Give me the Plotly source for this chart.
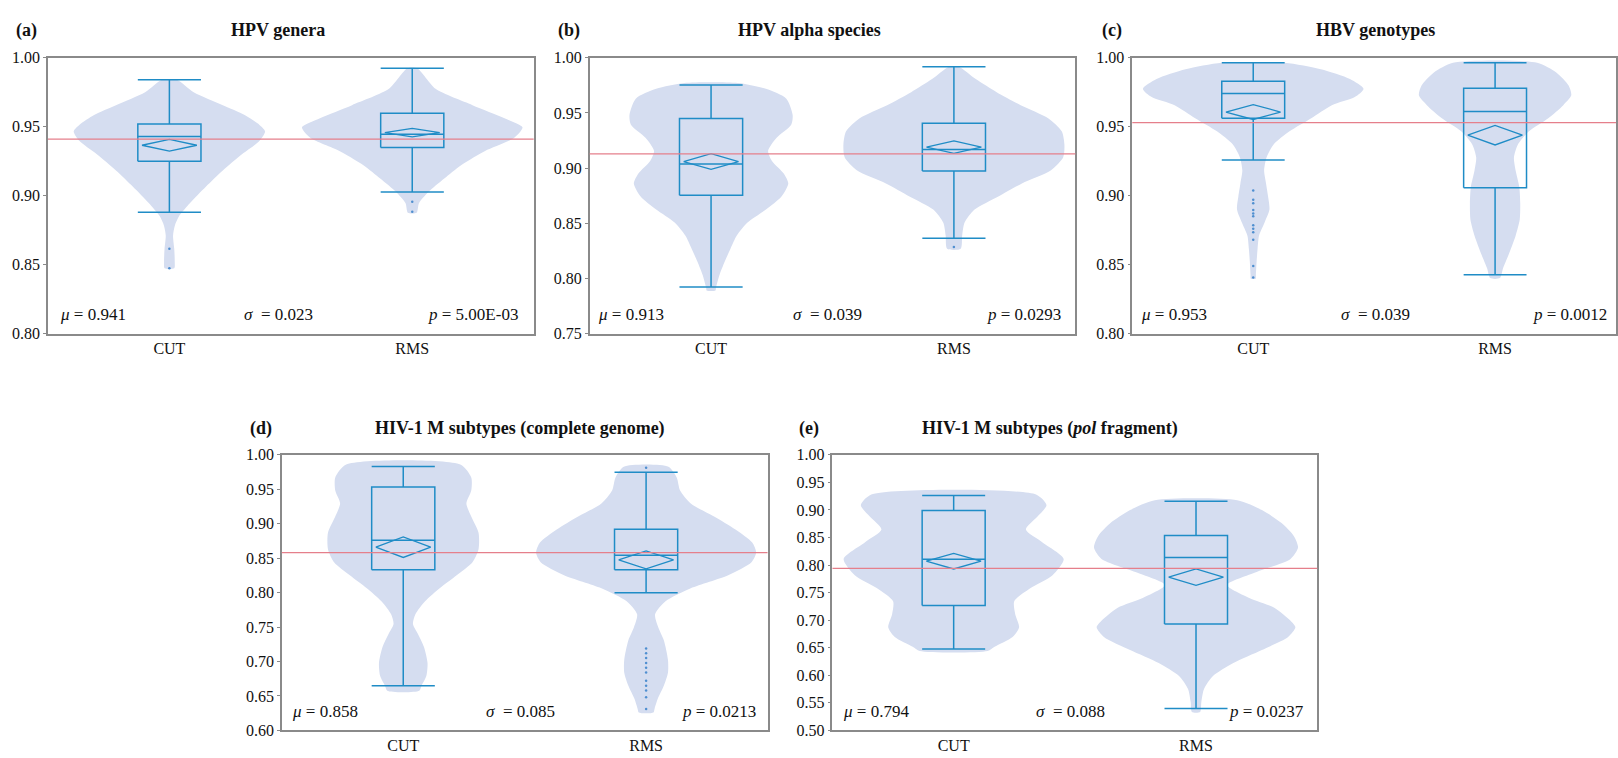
import plotly.graph_objects as go

FONT = "Liberation Serif"
W, H = 1618, 758

categories = ["CUT", "RMS"]
panel_labels = ["(a)", "(b)", "(c)", "(d)", "(e)"]
panel_titles = ["HPV genera", "HPV alpha species", "HBV genotypes",
                "HIV-1 M subtypes (complete genome)",
                "HIV-1 M subtypes (<i>pol</i> fragment)"]
y_ranges = [(0.80, 1.00), (0.75, 1.00), (0.80, 1.00), (0.60, 1.00), (0.50, 1.00)]
mu_values = [0.941, 0.913, 0.953, 0.858, 0.794]
sigma_values = [0.023, 0.039, 0.039, 0.085, 0.088]
p_texts = ["5.00E-03", "0.0293", "0.0012", "0.0213", "0.0237"]

# box statistics per panel: [CUT, RMS]
q1 = [[0.925, 0.935], [0.8754, 0.8973], [0.9562, 0.9058], [0.8333, 0.8333], [0.7267, 0.693]]
median = [[0.943, 0.9446], [0.9038, 0.9169], [0.9742, 0.961], [0.8758, 0.8541], [0.8105, 0.8135]]
q3 = [[0.952, 0.9598], [0.945, 0.9408], [0.983, 0.978], [0.9532, 0.8919], [0.899, 0.8536]]
lower = [[0.888, 0.9027], [0.7923, 0.8364], [0.9259, 0.8426], [0.6647, 0.7998], [0.6476, 0.5396]]
upper = [[0.9841, 0.9924], [0.9754, 0.992], [0.9964, 0.9964], [0.983, 0.9745], [0.9262, 0.9156]]
mean = [[0.9366, 0.9458], [0.906, 0.919], [0.9607, 0.9439], [0.8659, 0.8475], [0.807, 0.778]]
ci_half = [[0.0043, 0.0031], [0.0071, 0.0057], [0.0054, 0.0071], [0.0149, 0.013], [0.0142, 0.0148]]

# outlier points per panel: [CUT, RMS]
outliers = [
    [[0.8615, 0.8473], [0.8956, 0.8883]],
    [[], [0.8284]],
    [[0.9037, 0.897, 0.8945, 0.8897, 0.887, 0.885, 0.8785, 0.876, 0.8735, 0.868, 0.849, 0.8407], []],
    [[], [0.981, 0.719, 0.712, 0.705, 0.698, 0.691, 0.684, 0.672, 0.665, 0.658, 0.648, 0.631]],
    [[], []],
]

# violin density profiles: y levels and half-widths (category units)
violin_y = [
    [[0.9841, 0.9751, 0.9657, 0.9586, 0.9515, 0.9467, 0.9396, 0.9302, 0.9183, 0.9065, 0.8947, 0.8852, 0.8781, 0.8710, 0.8615, 0.8521, 0.8473],
     [0.9924, 0.9775, 0.9657, 0.9562, 0.9496, 0.9420, 0.9325, 0.9231, 0.9136, 0.9041, 0.8947, 0.8876]],
    [[0.9772, 0.9719, 0.963, 0.9482, 0.9393, 0.9275, 0.9157, 0.9068, 0.895, 0.8861, 0.8743, 0.8624, 0.8506, 0.8388, 0.8269, 0.8151, 0.8033, 0.7914, 0.789],
     [0.992, 0.9808, 0.9689, 0.9571, 0.9453, 0.9334, 0.9216, 0.9098, 0.898, 0.8861, 0.8743, 0.8624, 0.8506, 0.8388, 0.8269]],
    [[0.9964, 0.9917, 0.9846, 0.9775, 0.9716, 0.9657, 0.9562, 0.9467, 0.9373, 0.9278, 0.9183, 0.9089, 0.8994, 0.8899, 0.8805, 0.8710, 0.8615, 0.8521, 0.8426, 0.8398],
     [0.9964, 0.9893, 0.9799, 0.9728, 0.9657, 0.9562, 0.9467, 0.9373, 0.9278, 0.9183, 0.9065, 0.8947, 0.8828, 0.8710, 0.8568, 0.8473, 0.8402]],
    [[0.9858, 0.9669, 0.948, 0.9292, 0.9103, 0.8867, 0.863, 0.8442, 0.8253, 0.8064, 0.7875, 0.7686, 0.7544, 0.7403, 0.7214, 0.6978, 0.6789, 0.6647, 0.6576],
     [0.9825, 0.9669, 0.948, 0.9292, 0.9103, 0.8914, 0.8725, 0.8583, 0.8442, 0.8253, 0.8064, 0.7875, 0.7686, 0.7497, 0.7308, 0.7025, 0.6836, 0.6647, 0.6458, 0.6316, 0.626]],
    [[0.928, 0.9085, 0.8878, 0.8642, 0.8406, 0.8111, 0.7816, 0.758, 0.7344, 0.7107, 0.6871, 0.6694, 0.6517, 0.644],
     [0.9174, 0.8996, 0.876, 0.8524, 0.8318, 0.8111, 0.7875, 0.7639, 0.7403, 0.7226, 0.6989, 0.6871, 0.6694, 0.6458, 0.6222, 0.5986, 0.575, 0.5514, 0.5336]],
]
violin_w = [
    [[0.03, 0.10, 0.22, 0.31, 0.37, 0.394, 0.37, 0.30, 0.22, 0.15, 0.085, 0.04, 0.022, 0.015, 0.02, 0.022, 0.02],
     [0.02, 0.096, 0.248, 0.38, 0.454, 0.42, 0.30, 0.21, 0.14, 0.075, 0.028, 0.018]],
    [[0.11, 0.226, 0.31, 0.336, 0.33, 0.27, 0.235, 0.25, 0.30, 0.318, 0.29, 0.226, 0.15, 0.106, 0.08, 0.056, 0.035, 0.02, 0.018],
     [0.02, 0.09, 0.176, 0.275, 0.388, 0.444, 0.455, 0.45, 0.40, 0.28, 0.183, 0.085, 0.044, 0.034, 0.028]],
    [[0.13, 0.28, 0.40, 0.456, 0.42, 0.325, 0.24, 0.15, 0.085, 0.055, 0.045, 0.053, 0.0615, 0.067, 0.047, 0.024, 0.018, 0.014, 0.011, 0.01],
     [0.174, 0.253, 0.304, 0.315, 0.282, 0.22, 0.14, 0.095, 0.078, 0.085, 0.10, 0.104, 0.102, 0.085, 0.055, 0.033, 0.02]],
    [[0.235, 0.28, 0.28, 0.26, 0.28, 0.31, 0.31, 0.285, 0.22, 0.15, 0.09, 0.05, 0.04, 0.06, 0.085, 0.10, 0.095, 0.075, 0.066],
     [0.092, 0.126, 0.14, 0.184, 0.28, 0.368, 0.437, 0.453, 0.434, 0.338, 0.184, 0.08, 0.037, 0.05, 0.073, 0.09, 0.09, 0.073, 0.048, 0.035, 0.03]],
    [[0.34, 0.383, 0.346, 0.298, 0.368, 0.454, 0.408, 0.316, 0.25, 0.254, 0.27, 0.243, 0.169, 0.14],
     [0.17, 0.272, 0.353, 0.404, 0.421, 0.39, 0.25, 0.128, 0.22, 0.323, 0.39, 0.41, 0.38, 0.272, 0.154, 0.07, 0.033, 0.022, 0.017]],
]

# layout geometry (pixels)
plot_x = [(48, 534), (590, 1076), (1133, 1617), (282, 768), (833, 1318)]
plot_y = [(51, 333), (51, 333), (51, 333), (457, 739), (457, 739)]
title_pos = [(278, 23), (810, 23), (1376, 23), (520, 430), (1051, 430)]
label_pos = [(14, 23), (556, 23), (1101, 23), (248, 430), (797, 430)]
mu_x = [0.021, 0.013, 0.014, 0.017, 0.018]
sig_x = [0.474, 0.489, 0.502, 0.491, 0.491]
p_x = [0.972, 0.975, 0.985, 0.98, 0.977]

VIOLIN = "rgba(213,221,240,1)"
BLUE = "#1f8cc6"
RED = "#e57f8b"
AXIS = "#8a8a8a"
BOX_HW = 0.13
DIA_W = 0.113

fig = go.Figure()
annotations = []
shapes = []

for i in range(5):
    xa = "x" if i == 0 else f"x{i+1}"
    ya = "y" if i == 0 else f"y{i+1}"
    axname = "" if i == 0 else str(i + 1)
    for c in range(2):
        vy = violin_y[i][c]
        vw = violin_w[i][c]
        xs = [c + w for w in vw] + [c - w for w in reversed(vw)] + [c + vw[0]]
        ys = list(vy) + list(reversed(vy)) + [vy[0]]
        fig.add_trace(go.Scatter(x=xs, y=ys, mode="lines", fill="toself",
                                 fillcolor=VIOLIN, line=dict(width=0, shape="spline", smoothing=0.7),
                                 xaxis=xa, yaxis=ya, hoverinfo="skip", showlegend=False))
    shapes.append(dict(type="line", xref=f"{xa} domain", yref=ya, x0=0, x1=1,
                       y0=mu_values[i], y1=mu_values[i], line=dict(color=RED, width=1.3), layer="above"))
    for c in range(2):
        a, b = c - BOX_HW, c + BOX_HW
        bq1, bq3, bmed = q1[i][c], q3[i][c], median[i][c]
        blo, bhi = lower[i][c], upper[i][c]
        bx = [a, b, b, a, a, None, a, b, None, c, c, None, a, b, None, c, c, None, a, b]
        by = [bq1, bq1, bq3, bq3, bq1, None, bmed, bmed, None, bq3, bhi, None, bhi, bhi,
              None, bq1, blo, None, blo, blo]
        fig.add_trace(go.Scatter(x=bx, y=by, mode="lines", line=dict(color=BLUE, width=1.5),
                                 connectgaps=False, xaxis=xa, yaxis=ya,
                                 hoverinfo="skip", showlegend=False))
        m, h = mean[i][c], ci_half[i][c]
        fig.add_trace(go.Scatter(x=[c - DIA_W, c, c + DIA_W, c, c - DIA_W],
                                 y=[m, m + h, m, m - h, m], mode="lines",
                                 line=dict(color=BLUE, width=1.3),
                                 xaxis=xa, yaxis=ya, hoverinfo="skip", showlegend=False))
        if outliers[i][c]:
            fig.add_trace(go.Scatter(x=[c] * len(outliers[i][c]), y=outliers[i][c], mode="markers",
                                     marker=dict(color="#4f8fd0", size=2.5),
                                     xaxis=xa, yaxis=ya, hoverinfo="skip", showlegend=False))

    x0, x1 = plot_x[i]
    y0, y1 = plot_y[i]
    fig.layout[f"xaxis{axname}"] = dict(
        domain=[x0 / W, x1 / W], anchor=ya, range=[-0.5, 1.5],
        tickmode="array", tickvals=[0, 1], ticktext=categories, ticks="",
        showgrid=False, zeroline=False, showline=True, mirror=True,
        linecolor=AXIS, linewidth=1.5,
        tickfont=dict(family=FONT, size=16, color="#111"))
    lo, hi = y_ranges[i]
    fig.layout[f"yaxis{axname}"] = dict(
        domain=[1 - y1 / H, 1 - y0 / H], anchor=xa, range=[lo, hi],
        tick0=lo, dtick=0.05, tickformat=".2f", ticks="outside", ticklen=3,
        tickcolor=AXIS, showgrid=False, zeroline=False, showline=True, mirror=True,
        linecolor=AXIS, linewidth=1.5,
        tickfont=dict(family=FONT, size=16, color="#111"))

    tf = dict(family=FONT, size=17, color="#111")
    annotations.append(dict(xref=f"{xa} domain", yref=f"{ya} domain", x=mu_x[i], y=0.07,
                            xanchor="left", yanchor="middle", showarrow=False,
                            text=f"<i>μ</i> = {mu_values[i]:.3f}", font=tf))
    annotations.append(dict(xref=f"{xa} domain", yref=f"{ya} domain", x=sig_x[i], y=0.07,
                            xanchor="center", yanchor="middle", showarrow=False,
                            text=f"<i>σ</i>&nbsp; = {sigma_values[i]:.3f}", font=tf))
    annotations.append(dict(xref=f"{xa} domain", yref=f"{ya} domain", x=p_x[i], y=0.07,
                            xanchor="right", yanchor="middle", showarrow=False,
                            text=f"<i>p</i> = {p_texts[i]}", font=tf))
    tx, ty = title_pos[i]
    annotations.append(dict(xref="paper", yref="paper", x=tx / W, y=1 - ty / H,
                            xanchor="center", yanchor="middle", showarrow=False,
                            text=f"<b>{panel_titles[i]}</b>",
                            font=dict(family=FONT, size=18, color="#111")))
    lx, ly = label_pos[i]
    annotations.append(dict(xref="paper", yref="paper", x=lx / W, y=1 - ly / H,
                            xanchor="left", yanchor="middle", showarrow=False,
                            text=f"<b>{panel_labels[i]}</b>",
                            font=dict(family=FONT, size=18, color="#111")))

fig.update_layout(width=W, height=H, margin=dict(l=0, r=0, t=0, b=0),
                  paper_bgcolor="white", plot_bgcolor="white",
                  annotations=annotations, shapes=shapes, showlegend=False)

fig.write_html("out.html", config={"displayModeBar": False},
               post_script="document.body.style.margin='0';document.body.style.overflow='hidden';")
